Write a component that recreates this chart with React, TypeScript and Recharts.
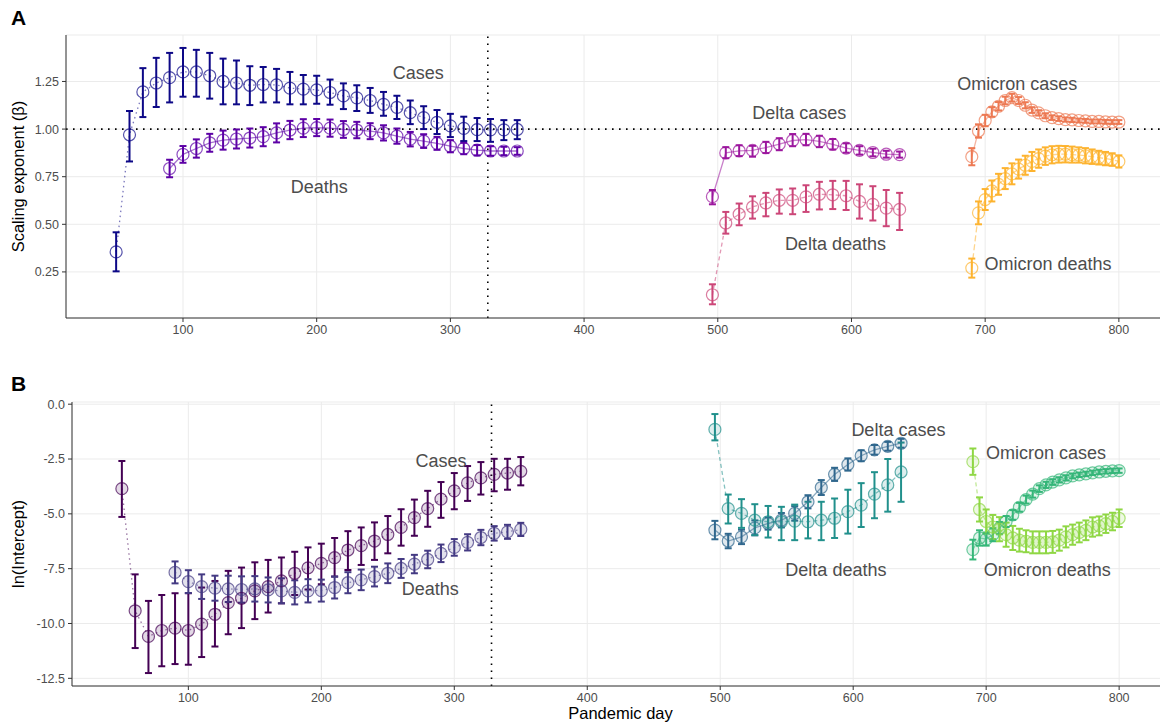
import {
  ComposedChart,
  Scatter,
  XAxis,
  YAxis,
  CartesianGrid,
  ErrorBar,
  ReferenceLine,
  ReferenceDot,
} from "recharts";

// pandemic days at which the estimates were made
const earlyDays = [50, 60, 70, 80, 90, 100, 110, 120, 130, 140, 150, 160, 170, 180, 190, 200, 210, 220, 230, 240, 250, 260, 270, 280, 290, 300, 310, 320, 330, 340, 350];
const earlyDeathDays = [90, 100, 110, 120, 130, 140, 150, 160, 170, 180, 190, 200, 210, 220, 230, 240, 250, 260, 270, 280, 290, 300, 310, 320, 330, 340, 350];
const deltaDays = [496, 506, 516, 526, 536, 546, 556, 566, 576, 586, 596, 606, 616, 626, 636];
const omicronDays = [690, 695, 700, 705, 710, 715, 720, 725, 730, 735, 740, 745, 750, 755, 760, 765, 770, 775, 780, 785, 790, 795, 800];

const dayTicks = [100, 200, 300, 400, 500, 600, 700, 800];
const betaTicks = [0.25, 0.5, 0.75, 1.0, 1.25];
const interceptTicks = [-12.5, -10, -7.5, -5, -2.5, 0];

// --- panel A: scaling exponent ---
const aCases = [0.355, 0.97, 1.195, 1.242, 1.27, 1.3, 1.3, 1.28, 1.25, 1.242, 1.23, 1.234, 1.232, 1.215, 1.21, 1.206, 1.192, 1.174, 1.164, 1.15, 1.13, 1.114, 1.086, 1.06, 1.035, 1.017, 1.004, 0.997, 0.996, 0.996, 0.998];
const aCasesLo = [0.253, 0.83, 1.063, 1.116, 1.14, 1.17, 1.17, 1.16, 1.13, 1.13, 1.126, 1.14, 1.14, 1.13, 1.13, 1.133, 1.128, 1.105, 1.095, 1.085, 1.07, 1.053, 1.026, 1.0, 0.974, 0.958, 0.937, 0.937, 0.933, 0.942, 0.947];
const aCasesHi = [0.458, 1.095, 1.32, 1.374, 1.4, 1.426, 1.416, 1.4, 1.37, 1.36, 1.33, 1.326, 1.316, 1.3, 1.284, 1.28, 1.26, 1.24, 1.23, 1.216, 1.195, 1.175, 1.15, 1.12, 1.1, 1.08, 1.065, 1.058, 1.053, 1.047, 1.047];

const aDeaths = [0.793, 0.867, 0.898, 0.928, 0.942, 0.948, 0.953, 0.96, 0.98, 0.995, 1.005, 1.008, 1.005, 0.998, 0.995, 0.989, 0.98, 0.963, 0.947, 0.937, 0.925, 0.91, 0.898, 0.889, 0.885, 0.885, 0.885];
const aDeathsErr = [0.046, 0.044, 0.048, 0.047, 0.05, 0.05, 0.05, 0.05, 0.05, 0.048, 0.047, 0.045, 0.045, 0.044, 0.043, 0.042, 0.04, 0.04, 0.038, 0.036, 0.034, 0.032, 0.03, 0.027, 0.025, 0.022, 0.02];

const aDeltaCases = [0.645, 0.875, 0.886, 0.888, 0.903, 0.921, 0.94, 0.945, 0.935, 0.92, 0.9, 0.888, 0.877, 0.868, 0.866];
const aDeltaCasesLo = [0.605, 0.847, 0.858, 0.855, 0.874, 0.889, 0.91, 0.915, 0.905, 0.893, 0.876, 0.866, 0.857, 0.85, 0.85];
const aDeltaCasesHi = [0.68, 0.905, 0.915, 0.912, 0.933, 0.952, 0.974, 0.975, 0.965, 0.948, 0.925, 0.91, 0.897, 0.886, 0.882];

const aDeltaDeaths = [0.13, 0.507, 0.553, 0.591, 0.612, 0.626, 0.626, 0.644, 0.658, 0.655, 0.65, 0.62, 0.605, 0.585, 0.578];
const aDeltaDeathsLo = [0.08, 0.451, 0.495, 0.53, 0.542, 0.556, 0.553, 0.565, 0.578, 0.58, 0.575, 0.53, 0.52, 0.49, 0.47];
const aDeltaDeathsHi = [0.185, 0.565, 0.609, 0.647, 0.665, 0.683, 0.688, 0.705, 0.723, 0.728, 0.728, 0.71, 0.7, 0.68, 0.665];

const aOmicronCases = [0.855, 0.99, 1.045, 1.09, 1.12, 1.15, 1.165, 1.15, 1.125, 1.1, 1.085, 1.07, 1.06, 1.055, 1.05, 1.048, 1.045, 1.043, 1.04, 1.04, 1.038, 1.037, 1.037];
const aOmicronCasesErr = [0.045, 0.035, 0.03, 0.025, 0.022, 0.02, 0.02, 0.018, 0.016, 0.015, 0.014, 0.013, 0.012, 0.012, 0.011, 0.011, 0.01, 0.01, 0.01, 0.01, 0.01, 0.01, 0.01];

const aOmicronDeaths = [0.27, 0.56, 0.63, 0.675, 0.71, 0.74, 0.765, 0.79, 0.81, 0.83, 0.845, 0.858, 0.865, 0.868, 0.868, 0.866, 0.864, 0.86, 0.855, 0.85, 0.845, 0.84, 0.83];
const aOmicronDeathsErr = [0.05, 0.06, 0.055, 0.055, 0.055, 0.055, 0.055, 0.05, 0.05, 0.05, 0.048, 0.046, 0.045, 0.044, 0.043, 0.042, 0.04, 0.04, 0.038, 0.036, 0.035, 0.033, 0.032];

// --- panel B: ln(intercept) ---
const bCases = [-3.85, -9.42, -10.59, -10.32, -10.21, -10.32, -10.03, -9.58, -9.05, -8.85, -8.51, -8.32, -8.06, -7.71, -7.46, -7.26, -7.0, -6.65, -6.45, -6.24, -5.94, -5.62, -5.17, -4.76, -4.33, -3.95, -3.59, -3.36, -3.2, -3.14, -3.06];
const bCasesLo = [-5.14, -11.12, -12.26, -11.95, -11.85, -11.88, -11.53, -11.05, -10.49, -10.21, -9.8, -9.5, -9.08, -8.7, -8.45, -8.21, -7.86, -7.56, -7.33, -7.1, -6.8, -6.45, -6.0, -5.59, -5.18, -4.79, -4.41, -4.12, -3.97, -3.9, -3.7];
const bCasesHi = [-2.59, -7.76, -8.97, -8.7, -8.62, -8.62, -8.36, -8.06, -7.6, -7.45, -7.21, -7.1, -6.99, -6.73, -6.53, -6.36, -6.1, -5.79, -5.62, -5.39, -5.1, -4.79, -4.35, -3.95, -3.55, -3.14, -2.82, -2.64, -2.49, -2.49, -2.41];

const bDeaths = [-7.67, -8.09, -8.32, -8.39, -8.42, -8.45, -8.42, -8.47, -8.51, -8.58, -8.51, -8.5, -8.36, -8.14, -8.01, -7.86, -7.71, -7.49, -7.29, -7.08, -6.8, -6.53, -6.3, -6.08, -5.89, -5.82, -5.71];
const bDeathsErr = [0.5, 0.52, 0.56, 0.57, 0.6, 0.6, 0.58, 0.57, 0.57, 0.55, 0.53, 0.5, 0.5, 0.48, 0.47, 0.45, 0.45, 0.43, 0.42, 0.4, 0.4, 0.38, 0.37, 0.35, 0.33, 0.32, 0.3];

const bDeltaCases = [-5.74, -6.24, -6.05, -5.64, -5.44, -5.29, -4.98, -4.45, -3.8, -3.2, -2.75, -2.35, -2.08, -1.92, -1.78];
const bDeltaCasesErr = [0.42, 0.33, 0.33, 0.34, 0.28, 0.33, 0.33, 0.3, 0.34, 0.3, 0.28, 0.25, 0.22, 0.2, 0.2];

const bDeltaDeaths = [-1.15, -4.76, -4.98, -5.29, -5.36, -5.36, -5.33, -5.36, -5.29, -5.2, -4.9, -4.6, -4.1, -3.68, -3.09];
const bDeltaDeathsLo = [-1.65, -5.44, -5.64, -5.97, -6.08, -6.2, -6.2, -6.12, -6.2, -6.1, -5.9, -5.6, -5.2, -4.9, -4.45];
const bDeltaDeathsHi = [-0.45, -4.12, -4.33, -4.56, -4.64, -4.68, -4.58, -4.45, -4.45, -4.3, -3.9, -3.6, -3.1, -2.5, -1.75];

const bOmicronCases = [-6.63, -6.1, -6.15, -5.95, -5.65, -5.35, -5.05, -4.7, -4.35, -4.1, -3.85, -3.68, -3.55, -3.45, -3.36, -3.27, -3.22, -3.18, -3.13, -3.09, -3.06, -3.04, -3.03];
const bOmicronCasesErr = [0.45, 0.35, 0.3, 0.3, 0.28, 0.25, 0.22, 0.2, 0.18, 0.16, 0.15, 0.14, 0.13, 0.12, 0.12, 0.11, 0.1, 0.1, 0.1, 0.1, 0.1, 0.1, 0.1];

const bOmicronDeaths = [-2.62, -4.8, -5.35, -5.6, -5.7, -5.95, -6.1, -6.2, -6.25, -6.3, -6.3, -6.3, -6.28, -6.2, -6.05, -5.95, -5.85, -5.75, -5.6, -5.55, -5.45, -5.35, -5.2];
const bOmicronDeathsErr = [0.6, 0.55, 0.55, 0.55, 0.55, 0.55, 0.55, 0.52, 0.5, 0.5, 0.5, 0.5, 0.5, 0.48, 0.48, 0.46, 0.45, 0.45, 0.44, 0.43, 0.42, 0.4, 0.4];

type Row = { x: number; y: number; err: [number, number] };

const rows = (days: number[], ys: number[], lo: number[], hi: number[]): Row[] =>
  days.map((d, i) => ({ x: d, y: ys[i], err: [ys[i] - lo[i], hi[i] - ys[i]] }));
const rowsSym = (days: number[], ys: number[], hw: number[]): Row[] =>
  days.map((d, i) => ({ x: d, y: ys[i], err: [hw[i], hw[i]] }));

interface Series {
  key: string;
  data: Row[];
  color: string;
  dash?: string;
}

const seriesA: Series[] = [
  { key: "cases", data: rows(earlyDays, aCases, aCasesLo, aCasesHi), color: "#0D0887", dash: "1.5 3.5" },
  { key: "deaths", data: rowsSym(earlyDeathDays, aDeaths, aDeathsErr), color: "#5D01A6" },
  { key: "deltaCases", data: rows(deltaDays, aDeltaCases, aDeltaCasesLo, aDeltaCasesHi), color: "#9C179E" },
  { key: "deltaDeaths", data: rows(deltaDays, aDeltaDeaths, aDeltaDeathsLo, aDeltaDeathsHi), color: "#CC4678", dash: "4 3" },
  { key: "omicronCases", data: rowsSym(omicronDays, aOmicronCases, aOmicronCasesErr), color: "#ED7953" },
  { key: "omicronDeaths", data: rowsSym(omicronDays, aOmicronDeaths, aOmicronDeathsErr), color: "#FDB32F", dash: "6 3" },
];

const seriesB: Series[] = [
  { key: "cases", data: rows(earlyDays, bCases, bCasesLo, bCasesHi), color: "#440154", dash: "1.5 3.5" },
  { key: "deaths", data: rowsSym(earlyDeathDays, bDeaths, bDeathsErr), color: "#443A83", dash: "1.5 3.5" },
  { key: "deltaCases", data: rowsSym(deltaDays, bDeltaCases, bDeltaCasesErr), color: "#31688E" },
  { key: "deltaDeaths", data: rows(deltaDays, bDeltaDeaths, bDeltaDeathsLo, bDeltaDeathsHi), color: "#21908C", dash: "4 3" },
  { key: "omicronCases", data: rowsSym(omicronDays, bOmicronCases, bOmicronCasesErr), color: "#35B779" },
  { key: "omicronDeaths", data: rowsSym(omicronDays, bOmicronDeaths, bOmicronDeathsErr), color: "#8FD744", dash: "4 3" },
];

const labelsA = [
  { text: "Cases", x: 276, y: 1.294 },
  { text: "Deaths", x: 202, y: 0.696 },
  { text: "Delta cases", x: 561, y: 1.089 },
  { text: "Delta deaths", x: 588, y: 0.397 },
  { text: "Omicron cases", x: 724, y: 1.241 },
  { text: "Omicron deaths", x: 747, y: 0.292 },
];

const labelsB = [
  { text: "Cases", x: 290, y: -2.55 },
  { text: "Deaths", x: 282, y: -8.43 },
  { text: "Delta cases", x: 634, y: -1.14 },
  { text: "Delta deaths", x: 587, y: -7.52 },
  { text: "Omicron cases", x: 745, y: -2.23 },
  { text: "Omicron deaths", x: 746, y: -7.52 },
];

const X_DOMAIN: [number, number] = [12.5, 837.5];
const tickStyle = { fill: "#4d4d4d", fontSize: 12.5 };

const ring = (color: string, filled: boolean) => (p: any) => (
  <circle
    cx={p.cx}
    cy={p.cy}
    r={6}
    fill={filled ? color : "none"}
    fillOpacity={filled ? 0.15 : 0}
    stroke={color}
    strokeOpacity={0.7}
    strokeWidth={1.2}
  />
);

interface PanelProps {
  series: Series[];
  labels: { text: string; x: number; y: number }[];
  height: number;
  top: number;
  yWidth: number;
  yDomain: [number, number];
  yTicks: number[];
  yFmt: (v: number) => string;
  yTitle: string;
  xTitle?: string;
  filled: boolean;
  hline?: number;
}

const Panel = ({ series, labels, height, top, yWidth, yDomain, yTicks, yFmt, yTitle, xTitle, filled, hline }: PanelProps) => (
  <ComposedChart width={1170} height={height} margin={{ top, right: 1, left: 0, bottom: xTitle ? 0 : 12 }}>
    <CartesianGrid stroke="#ebebeb" strokeWidth={1} />
    <XAxis
      dataKey="x"
      type="number"
      domain={X_DOMAIN}
      ticks={dayTicks}
      allowDataOverflow
      height={xTitle ? 37 : 30}
      tick={tickStyle}
      tickSize={4}
      tickMargin={3}
      axisLine={{ stroke: "#333" }}
      tickLine={{ stroke: "#333" }}
      label={xTitle ? { value: xTitle, position: "insideBottom", offset: 4, fill: "#000", fontSize: 16.5 } : undefined}
    />
    <XAxis xAxisId="top" orientation="top" type="number" domain={X_DOMAIN} height={0} tick={false} tickLine={false} axisLine={{ stroke: "#333" }} />
    <YAxis
      dataKey="y"
      type="number"
      domain={yDomain}
      ticks={yTicks}
      allowDataOverflow
      width={yWidth}
      tick={tickStyle}
      tickSize={4}
      tickMargin={3}
      tickFormatter={yFmt}
      axisLine={{ stroke: "#333" }}
      tickLine={{ stroke: "#333" }}
      label={{ value: yTitle, angle: -90, position: "insideLeft", offset: 18, fill: "#000", fontSize: 16.5, style: { textAnchor: "middle" } }}
    />
    {hline !== undefined && <ReferenceLine y={hline} stroke="#000" strokeWidth={1.6} strokeDasharray="1.6 5.4" />}
    <ReferenceLine x={328} stroke="#000" strokeWidth={1.6} strokeDasharray="1.6 5.4" />
    {series.map((s) => (
      <Scatter
        key={s.key}
        data={s.data}
        isAnimationActive={false}
        line={{ stroke: s.color, strokeOpacity: 0.55, strokeWidth: 1.3, strokeDasharray: s.dash }}
        shape={ring(s.color, filled)}
      >
        <ErrorBar dataKey="err" direction="y" width={3.5} strokeWidth={2} stroke={s.color} />
      </Scatter>
    ))}
    {labels.map((l) => (
      <ReferenceDot
        key={l.text}
        x={l.x}
        y={l.y}
        r={0}
        stroke="none"
        fill="none"
        label={{ value: l.text, position: "center", fill: "#4d4d4d", fontSize: 18 }}
      />
    ))}
  </ComposedChart>
);

export default function App() {
  return (
    <div
      style={{
        position: "relative",
        width: 1160,
        height: 723,
        overflow: "hidden",
        background: "#fff",
        fontFamily: "'Liberation Sans', Arial, Helvetica, sans-serif",
      }}
    >
      <style>{"body{margin:0}"}</style>
      <div style={{ position: "absolute", left: 0, top: 0 }}>
        <Panel
          series={seriesA}
          labels={labelsA}
          height={360}
          top={35}
          yWidth={66}
          yDomain={[0.008, 1.494]}
          yTicks={betaTicks}
          yFmt={(v) => v.toFixed(2)}
          yTitle="Scaling exponent (β)"
          filled={false}
          hline={1}
        />
      </div>
      <div style={{ position: "absolute", left: 0, top: 360 }}>
        <Panel
          series={seriesB}
          labels={labelsB}
          height={363}
          top={42}
          yWidth={72}
          yDomain={[-12.85, 0.1]}
          yTicks={interceptTicks}
          yFmt={(v) => v.toFixed(1)}
          yTitle="ln(Intercept)"
          xTitle="Pandemic day"
          filled={true}
        />
      </div>
      <div style={{ position: "absolute", left: 11, top: 6, fontWeight: 700, fontSize: 21 }}>A</div>
      <div style={{ position: "absolute", left: 11, top: 372, fontWeight: 700, fontSize: 21 }}>B</div>
    </div>
  );
}
